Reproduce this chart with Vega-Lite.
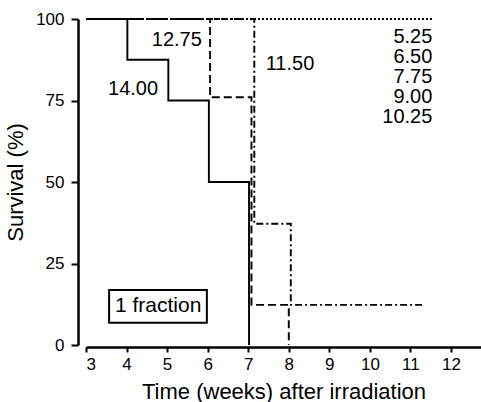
{
  "$schema": "https://vega.github.io/schema/vega-lite/v6.json",
  "width": 395,
  "height": 326,
  "autosize": {"type": "none"},
  "padding": {"left": 86, "top": 19, "right": 0, "bottom": 57},
  "background": "white",
  "config": {
    "view": {"stroke": null},
    "font": "Liberation Sans",
    "axis": {"grid": false, "domainColor": "black", "tickColor": "black", "labelColor": "black", "titleColor": "black", "labelFont": "Liberation Sans", "titleFont": "Liberation Sans", "titleFontWeight": "normal"}
  },
  "datasets": {
    "curves": [
      {"series": "14.00", "order": 1, "week": 3, "survival": 100},
      {"series": "14.00", "order": 2, "week": 4.02, "survival": 87.5},
      {"series": "14.00", "order": 3, "week": 5.03, "survival": 75},
      {"series": "14.00", "order": 4, "week": 6.03, "survival": 50},
      {"series": "14.00", "order": 5, "week": 7.02, "survival": 0},
      {"series": "12.75", "order": 1, "week": 3, "survival": 100},
      {"series": "12.75", "order": 2, "week": 6.06, "survival": 76},
      {"series": "12.75", "order": 3, "week": 7.08, "survival": 12.3},
      {"series": "12.75", "order": 4, "week": 8.0, "survival": 0},
      {"series": "11.50", "order": 1, "week": 3, "survival": 100},
      {"series": "11.50", "order": 2, "week": 7.15, "survival": 37.2},
      {"series": "11.50", "order": 3, "week": 8.05, "survival": 12.3},
      {"series": "11.50", "order": 4, "week": 11.3, "survival": 12.3},
      {"series": "5.25-10.25", "order": 1, "week": 3, "survival": 100},
      {"series": "5.25-10.25", "order": 2, "week": 11.55, "survival": 100}
    ],
    "labels": [
      {"label": "12.75", "week": 5.24, "survival": 93.6},
      {"label": "14.00", "week": 4.16, "survival": 78.5},
      {"label": "11.50", "week": 8.03, "survival": 86.2}
    ],
    "rightLabels": [
      {"label": "5.25", "week": 11.54, "survival": 94.6},
      {"label": "6.50", "week": 11.54, "survival": 88.4},
      {"label": "7.75", "week": 11.54, "survival": 82.3},
      {"label": "9.00", "week": 11.54, "survival": 76.2},
      {"label": "10.25", "week": 11.54, "survival": 70.0}
    ],
    "box": [
      {"label": "1 fraction", "x1": 3.57, "x2": 5.98, "y1": 6.8, "y2": 16.9, "week": 4.78, "survival": 11.9}
    ]
  },
  "layer": [
    {
      "data": {"name": "curves"},
      "mark": {"type": "line", "interpolate": "step-after", "color": "black", "strokeWidth": 1.9},
      "encoding": {
        "x": {"field": "week", "type": "quantitative", "scale": {"domain": [3, 12.74], "nice": false, "zero": false},
          "axis": {"values": [3,4,5,6,7,8,9,10,11,12], "title": "Time (weeks) after irradiation", "offset": 2, "domainWidth": 2.5, "tickWidth": 2, "tickSize": 5, "labelFontSize": 17, "labelPadding": 4, "titleFontSize": 22, "titlePadding": 9}},
        "y": {"field": "survival", "type": "quantitative", "scale": {"domain": [0, 100], "nice": false},
          "axis": {"values": [0,25,50,75,100], "title": "Survival (%)", "offset": 8, "domainWidth": 2.5, "tickWidth": 2, "tickSize": 7, "labelFontSize": 17, "labelPadding": 7, "titleFontSize": 22, "titlePadding": 8}},
        "detail": {"field": "series"},
        "order": {"field": "order"},
        "strokeDash": {"field": "series", "type": "nominal", "legend": null,
          "scale": {"domain": ["14.00", "12.75", "11.50", "5.25-10.25"], "range": [[1, 0], [8, 4], [7, 3, 2, 3], [2, 2]]}}
      }
    },
    {
      "data": {"name": "labels"},
      "mark": {"type": "text", "fontSize": 20, "align": "center", "baseline": "middle", "color": "black"},
      "encoding": {
        "x": {"field": "week", "type": "quantitative"},
        "y": {"field": "survival", "type": "quantitative"},
        "text": {"field": "label"}
      }
    },
    {
      "data": {"name": "rightLabels"},
      "mark": {"type": "text", "fontSize": 20, "align": "right", "baseline": "middle", "color": "black"},
      "encoding": {
        "x": {"field": "week", "type": "quantitative"},
        "y": {"field": "survival", "type": "quantitative"},
        "text": {"field": "label"}
      }
    },
    {
      "data": {"name": "box"},
      "mark": {"type": "rect", "fill": "white", "stroke": "black", "strokeWidth": 2},
      "encoding": {
        "x": {"field": "x1", "type": "quantitative"},
        "x2": {"field": "x2"},
        "y": {"field": "y1", "type": "quantitative"},
        "y2": {"field": "y2"}
      }
    },
    {
      "data": {"name": "box"},
      "mark": {"type": "text", "fontSize": 21, "align": "center", "baseline": "middle", "color": "black"},
      "encoding": {
        "x": {"field": "week", "type": "quantitative"},
        "y": {"field": "survival", "type": "quantitative"},
        "text": {"field": "label"}
      }
    }
  ]
}
